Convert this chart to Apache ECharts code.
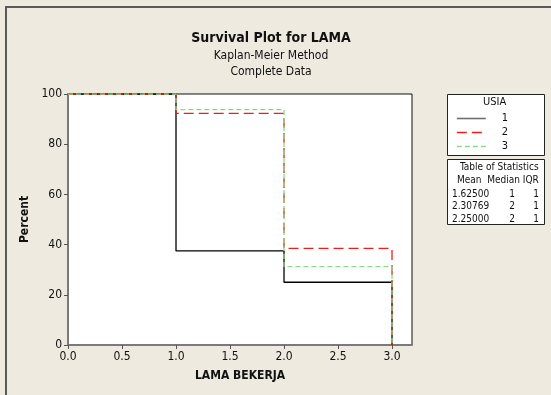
<!DOCTYPE html>
<html>
<head>
<meta charset="utf-8">
<script src="https://cdn.jsdelivr.net/npm/echarts@6/dist/echarts.min.js"></script>
<style>
  html, body { margin: 0; padding: 0; background: #EEEAE0; }
  #chart { width: 551px; height: 395px; }
</style>
</head>
<body>
<div id="chart"></div>
<script>
// Kaplan-Meier survival estimates (percent) per USIA group, at each failure time
const times = [0, 1, 2, 3];
const usia1 = [100, 37.5, 25, 0];
const usia2 = [100, 92.3077, 38.4615, 0];
const usia3 = [100, 93.75, 31.25, 0];
const groupNames = ['1', '2', '3'];

// Table of statistics
const statMean = ['1.62500', '2.30769', '2.25000'];
const statMedian = ['1', '2', '2'];
const statIQR = ['1', '1', '1'];

const xTicks = [0, 0.5, 1, 1.5, 2, 2.5, 3];

const FONT = '"DejaVu Sans Condensed", "Liberation Sans", sans-serif';

const chart = echarts.init(document.getElementById('chart'), null, { renderer: 'canvas' });

function pairs(ys) { return times.map((t, i) => [t, ys[i]]); }

const seriesStyles = [
  { color: '#000000', type: 'solid', legend: '#6e6e6e' },
  { color: '#f01c1c', type: [10, 5], legend: '#f01c1c' },
  { color: '#8fd88f', type: [5, 3], legend: '#8fd88f' }
];

const stepSeries = [usia1, usia2, usia3].map((ys, i) => ({
  name: groupNames[i],
  type: 'line',
  step: 'end',
  data: pairs(ys),
  symbol: 'none',
  silent: true,
  animation: false,
  color: seriesStyles[i].color,
  lineStyle: { color: seriesStyles[i].color, width: 1.3, type: seriesStyles[i].type }
}));

// Statistics table rows as graphic text
const statRows = [];
statMean.forEach((m, i) => {
  const y = 195 + i * 12.5;
  statRows.push({ type: 'text', left: 452, top: y - 6, style: { text: m, font: '10px ' + FONT, fill: '#111' } });
  statRows.push({ type: 'text', right: 551 - 515, top: y - 6, style: { text: statMedian[i], font: '10px ' + FONT, fill: '#111' } });
  statRows.push({ type: 'text', right: 551 - 539, top: y - 6, style: { text: statIQR[i], font: '10px ' + FONT, fill: '#111' } });
});

chart.setOption({
  backgroundColor: '#EEEAE0',
  animation: false,
  textStyle: { fontFamily: FONT },
  title: [
    { text: 'Survival Plot for LAMA', left: 266, textAlign: 'center', top: 26,
      textStyle: { fontSize: 14, fontWeight: 'bold', color: '#111', fontFamily: FONT } },
    { text: 'Kaplan-Meier Method', left: 266, textAlign: 'center', top: 45,
      textStyle: { fontSize: 12, fontWeight: 'normal', color: '#111', fontFamily: FONT } },
    { text: 'Complete Data', left: 266, textAlign: 'center', top: 61,
      textStyle: { fontSize: 12, fontWeight: 'normal', color: '#111', fontFamily: FONT } }
  ],
  grid: {
    left: 68, top: 94, width: 344, height: 251,
    show: true, backgroundColor: '#ffffff', borderColor: '#111', borderWidth: 1
  },
  xAxis: {
    type: 'value', min: 0, max: 3.185,
    name: 'LAMA BEKERJA', nameLocation: 'middle', nameGap: 25,
    nameTextStyle: { fontSize: 12, fontWeight: 'bold', color: '#111', fontFamily: FONT },
    axisLine: { show: true, onZero: false, lineStyle: { color: '#7a7a7a', width: 2 } },
    axisTick: { show: true, length: 4, lineStyle: { color: '#555' }, customValues: xTicks },
    axisLabel: { customValues: xTicks, fontSize: 12, color: '#111', margin: 6,
      formatter: v => v.toFixed(1) },
    splitLine: { show: false }
  },
  yAxis: {
    type: 'value', min: 0, max: 100, interval: 20,
    name: 'Percent', nameLocation: 'middle', nameGap: 32, nameRotate: 90,
    nameTextStyle: { fontSize: 12, fontWeight: 'bold', color: '#111', fontFamily: FONT },
    axisLine: { show: true, onZero: false, lineStyle: { color: '#7a7a7a', width: 2 } },
    axisTick: { show: true, length: 4, lineStyle: { color: '#555' } },
    axisLabel: { fontSize: 12, color: '#111', margin: 6 },
    splitLine: { show: false }
  },
  legend: {
    orient: 'vertical',
    left: 451, top: 108,
    itemWidth: 29, itemHeight: 10, itemGap: 3,
    selectedMode: false,
    data: groupNames.map((n, i) => ({
      name: n,
      lineStyle: { color: seriesStyles[i].legend, width: 1.6 }
    })),
    itemStyle: { opacity: 0 },
    textStyle: { fontSize: 11, color: '#111', fontFamily: FONT, padding: [0, 0, 0, 11] }
  },
  series: stepSeries,
  graphic: [
    // outer panel frame
    { type: 'polyline', silent: true, z: 100,
      shape: { points: [[6, 400], [6, 7], [560, 7]] },
      style: { stroke: '#5a5a5a', lineWidth: 2, fill: null } },
    // legend box
    { type: 'rect', silent: true, z: -1,
      shape: { x: 447.5, y: 94.5, width: 97, height: 61 },
      style: { fill: '#ffffff', stroke: '#222', lineWidth: 1 } },
    { type: 'text', left: 483, top: 97, silent: true,
      style: { text: 'USIA', font: '11px ' + FONT, fill: '#111' } },
    // statistics box
    { type: 'rect', silent: true, z: -1,
      shape: { x: 447.5, y: 159.5, width: 97, height: 65 },
      style: { fill: '#ffffff', stroke: '#222', lineWidth: 1 } },
    { type: 'text', left: 460, top: 162, silent: true,
      style: { text: 'Table of Statistics', font: '10px ' + FONT, fill: '#111' } },
    { type: 'text', left: 457, top: 175, silent: true,
      style: { text: 'Mean  Median IQR', font: '10px ' + FONT, fill: '#111' } }
  ].concat(statRows)
});
</script>
</body>
</html>
